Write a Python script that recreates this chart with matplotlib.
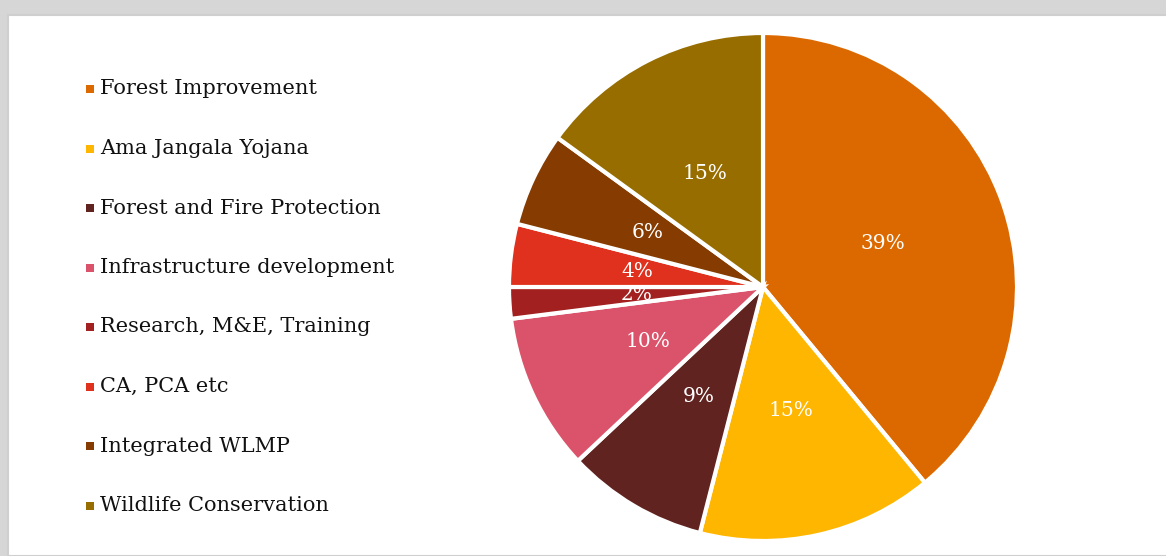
import matplotlib.pyplot as plt
from matplotlib.patches import Rectangle

labels = ["Forest Improvement", "Ama Jangala Yojana", "Forest and Fire Protection",
          "Infrastructure development", "Research, M&E, Training", "CA, PCA etc",
          "Integrated WLMP", "Wildlife Conservation"]
shares = [39, 15, 9, 10, 2, 4, 6, 15]
colors = ["#DC6900", "#FFB600", "#602320", "#DB536A", "#A32020", "#E0301E",
          "#863B00", "#986D00"]

W, H = 1166, 556
fig = plt.figure(figsize=(W / 100, H / 100), dpi=100)
fig.patch.set_facecolor("#d6d6d6")

# white panel
fig.patches.append(Rectangle((8 / W, 0), 1.0, (H - 15) / H, transform=fig.transFigure,
                             facecolor="white", edgecolor="#cfcfcf", linewidth=1.5,
                             zorder=-5))

cx, cy, r = 763, 287, 254
ax = fig.add_axes([(cx - r) / W, (H - cy - r) / H, 2 * r / W, 2 * r / H])
ax.set_zorder(2)
ax.patch.set_visible(False)
wedges, texts, autotexts = ax.pie(
    shares, colors=colors, startangle=90, counterclock=False,
    autopct="%d%%", pctdistance=0.5,
    wedgeprops=dict(edgecolor="white", linewidth=3),
    textprops=dict(color="white", fontsize=14.5, family="DejaVu Serif"))
ax.set_xlim(-1, 1)
ax.set_ylim(-1, 1)
ax.set_aspect("equal")

# legend on the left
y0, step = 89, 59.5
for i, (lab, col) in enumerate(zip(labels, colors)):
    y = y0 + i * step
    fig.patches.append(Rectangle((86 / W, (H - y - 4) / H), 8 / W, 8 / H,
                                 transform=fig.transFigure, facecolor=col, edgecolor="none"))
    fig.text(100 / W, (H - y) / H, lab, fontsize=15, family="DejaVu Serif",
             color="#111111", va="center", ha="left")

fig.savefig("out.png", dpi=100)
